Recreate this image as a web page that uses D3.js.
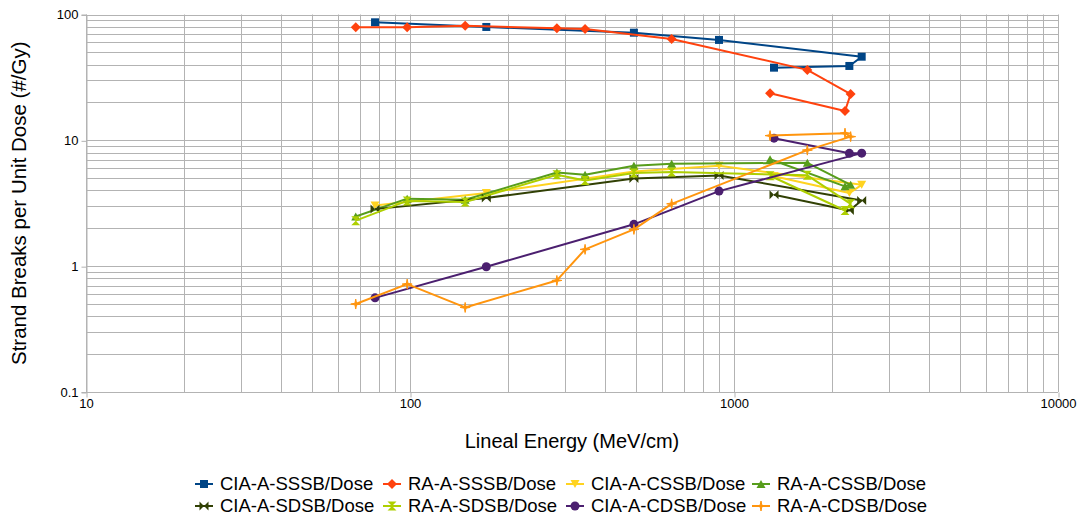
<!DOCTYPE html>
<html>
<head>
<meta charset="utf-8">
<script src="https://cdn.jsdelivr.net/npm/d3@7"></script>
<style>
body{margin:0;background:#fff;}
svg{display:block;font-family:"Liberation Sans",Arial,sans-serif;}
</style>
</head>
<body>
<svg id="chart" width="1082" height="518"></svg>
<script>
// lineal energy (MeV/cm) for the two model families
const cia_x=[78,172,491,899,2478,2270,1329];
const ra_x=[68,98,148,284,347,491,642,1684,2291,2201,1292];
const ra_sssb_x=[68,98,148,284,347,642,1684,2291,2201,1292];

// strand breaks per unit dose (#/Gy)
const cia_sssb=[86.7,79.6,71.7,62.8,46.2,39.0,37.8];
const ra_sssb=[79.2,79.2,81.5,77.7,76.7,63.9,36.3,23.3,17.1,23.7];
const cia_cssb=[3.04,3.81,5.65,6.28,4.43,3.81,5.18];
const ra_cssb=[2.48,3.44,3.37,5.55,5.32,6.28,6.51,6.63,4.43,4.31,7.07];
const cia_sdsb=[2.84,3.48,4.98,5.26,3.33,2.77,3.69];
const ra_sdsb=[2.30,3.30,3.24,5.32,4.80,5.50,5.60,5.27,3.13,2.77,5.23];
const cia_cdsb=[0.56,0.99,2.15,3.95,7.91,7.88,10.4];
const ra_cdsb=[0.50,0.72,0.47,0.77,1.36,1.96,3.13,8.36,10.7,11.4,10.9];

const x_ticks=[10,100,1000,10000];
const y_ticks=[0.1,1,10,100];

const series_names=['CIA-A-SSSB/Dose','RA-A-SSSB/Dose','CIA-A-CSSB/Dose','RA-A-CSSB/Dose',
    'CIA-A-SDSB/Dose','RA-A-SDSB/Dose','CIA-A-CDSB/Dose','RA-A-CDSB/Dose'];

const series=[
    {name:series_names[0],xs:cia_x,ys:cia_sssb,color:'#004586',sym:'square'},
    {name:series_names[1],xs:ra_sssb_x,ys:ra_sssb,color:'#ff420e',sym:'diamond'},
    {name:series_names[2],xs:cia_x,ys:cia_cssb,color:'#ffd320',sym:'down'},
    {name:series_names[3],xs:ra_x,ys:ra_cssb,color:'#579d1c',sym:'up'},
    {name:series_names[4],xs:cia_x,ys:cia_sdsb,color:'#314004',sym:'bowtie'},
    {name:series_names[5],xs:ra_x,ys:ra_sdsb,color:'#aecf00',sym:'hourglass'},
    {name:series_names[6],xs:cia_x,ys:cia_cdsb,color:'#4b1f6f',sym:'circle'},
    {name:series_names[7],xs:ra_x,ys:ra_cdsb,color:'#ff950e',sym:'star'}
];

const plot={left:86,right:1058,top:14.5,bot:392};

const symbols={
    square:'M-4,-4H4V4H-4Z',
    diamond:'M0,-5L5,0L0,5L-5,0Z',
    down:'M-4.5,-4H4.5L0,4Z',
    up:'M0,-4L4.5,4H-4.5Z',
    bowtie:'M-4.5,-4.5L0,0L-4.5,4.5ZM4.5,-4.5L0,0L4.5,4.5Z',
    hourglass:'M-4.5,-4.5H4.5L0,0ZM-4.5,4.5H4.5L0,0Z',
    circle:'M4.5,0A4.5,4.5 0 1,1 -4.5,0A4.5,4.5 0 1,1 4.5,0Z',
    star:'M0,-5L0.8,-0.8L5,0L0.8,0.8L0,5L-0.8,0.8L-5,0L-0.8,-0.8Z'
}

const svg=d3.select('#chart');

const x=d3.scaleLog().domain([10,10000]).range([plot.left,plot.right]);
const y=d3.scaleLog().domain([0.1,100]).range([plot.bot,plot.top]);

const crisp=v=>Math.round(v)+0.5;

// grid
const grid=svg.append('g').attr('class','grid').attr('stroke','#b3b3b3').attr('stroke-width',1);
grid.selectAll('line.v').data(x.ticks()).join('line')
    .attr('class','v')
    .attr('x1',d=>crisp(x(d))).attr('x2',d=>crisp(x(d)))
    .attr('y1',plot.top).attr('y2',plot.bot);
grid.selectAll('line.h').data(y.ticks()).join('line')
    .attr('class','h')
    .attr('y1',d=>crisp(y(d))).attr('y2',d=>crisp(y(d)))
    .attr('x1',plot.left).attr('x2',plot.right);

// axes
const x_axis=d3.axisBottom(x).tickValues(x_ticks).tickFormat(d3.format('~g')).tickSize(5);
const y_axis=d3.axisLeft(y).tickValues(y_ticks).tickFormat(d3.format('~g')).tickSize(5);

svg.append('g').attr('transform',`translate(0,${crisp(plot.bot)})`).call(x_axis)
    .call(g=>g.select('.domain').remove())
    .call(g=>g.selectAll('line').attr('stroke','#b3b3b3').attr('transform','translate(0.5,0)'))
    .call(g=>g.selectAll('text').attr('font-size',13).attr('font-family','Liberation Sans, Arial, sans-serif').attr('fill','#000').attr('dy','0.6em'));
svg.append('g').attr('transform',`translate(${crisp(plot.left)},0)`).call(y_axis)
    .call(g=>g.select('.domain').attr('stroke','#b3b3b3'))
    .call(g=>g.selectAll('line').attr('stroke','#b3b3b3').attr('transform','translate(0,0.5)'))
    .call(g=>g.selectAll('text').attr('font-size',13).attr('font-family','Liberation Sans, Arial, sans-serif').attr('fill','#000'));

// series
const line=d3.line().x(d=>x(d[0])).y(d=>y(d[1]));

series.forEach(s=>{
    const pts=s.xs.map((v,i)=>[v,s.ys[i]]);
    const g=svg.append('g').attr('class','series');
    g.append('path').attr('d',line(pts))
        .attr('fill','none').attr('stroke',s.color).attr('stroke-width',2)
        .attr('stroke-linejoin','round');
    g.selectAll('path.m').data(pts).join('path')
        .attr('class','m')
        .attr('d',symbols[s.sym])
        .attr('transform',d=>`translate(${x(d[0])},${y(d[1])})`)
        .attr('fill',s.color)
        .attr('stroke',s.sym=='star'?s.color:'none')
        .attr('stroke-width',s.sym=='star'?1:0);
})

// axis titles
svg.append('text').attr('x',(plot.left+plot.right)/2).attr('y',448)
    .attr('text-anchor','middle').attr('font-size',20).text('Lineal Energy (MeV/cm)');
svg.append('text').attr('transform',`translate(26,${(plot.top+plot.bot)/2}) rotate(-90)`)
    .attr('text-anchor','middle').attr('font-size',20.5).text('Strand Breaks per Unit Dose (#/Gy)');

// legend
const legend_cols=[204,392,575,761];
const legend_rows=[484,506];
const legend=svg.append('g').attr('class','legend');
series.forEach((s,i)=>{
    const cx=legend_cols[i%4];
    const cy=legend_rows[Math.floor(i/4)];
    const item=legend.append('g').attr('transform',`translate(${cx},${cy})`);
    item.append('line').attr('x1',-9).attr('x2',9).attr('y1',0).attr('y2',0)
        .attr('stroke',s.color).attr('stroke-width',2);
    item.append('path').attr('d',symbols[s.sym]).attr('fill',s.color)
        .attr('stroke',s.sym=='star'?s.color:'none');
    item.append('text').attr('x',16).attr('y',0).attr('dy','0.35em')
        .attr('font-size',18.5).text(s.name);
})
</script>
</body>
</html>
